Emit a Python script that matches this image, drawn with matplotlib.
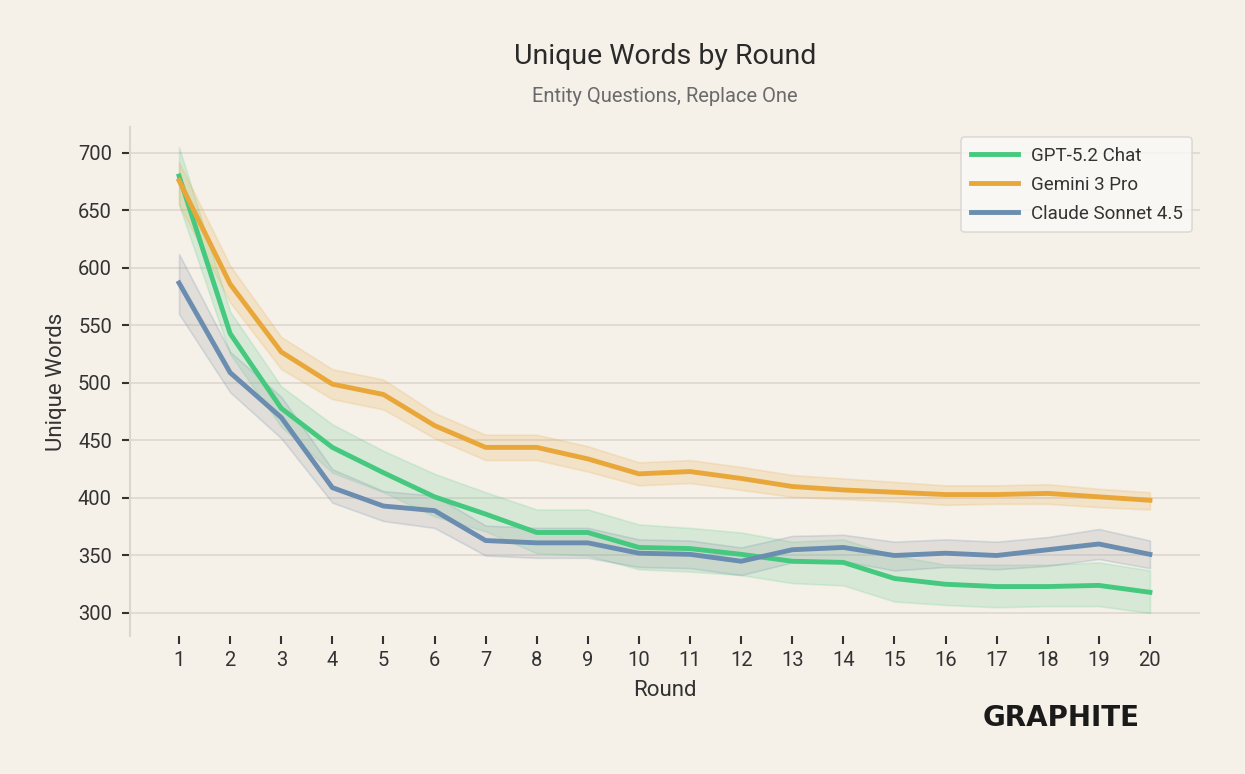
import numpy as np
import matplotlib
matplotlib.use('Agg')
import matplotlib.pyplot as plt

plt.rcParams['font.family'] = ['Roboto', 'DejaVu Sans']

rounds = list(range(1, 21))

# mean values
gpt_mean = [680, 543, 478, 444, 422, 401, 386, 370, 370, 357,
            356, 351, 345, 344, 330, 325, 323, 323, 324, 318]
gpt_lo   = [655, 525, 462, 422, 405, 384, 371, 352, 350, 338,
            336, 333, 326, 324, 310, 307, 305, 306, 306, 300]
gpt_hi   = [705, 562, 497, 464, 441, 421, 405, 390, 390, 377,
            374, 370, 362, 364, 350, 342, 342, 342, 344, 337]

gem_mean = [676, 586, 527, 499, 490, 463, 444, 444, 434, 421,
            423, 417, 410, 407, 405, 403, 403, 404, 401, 398]
gem_lo   = [655, 570, 512, 486, 477, 452, 433, 433, 423, 411,
            413, 407, 401, 399, 397, 394, 395, 395, 392, 390]
gem_hi   = [692, 602, 540, 512, 503, 474, 455, 455, 445, 431,
            433, 427, 420, 417, 414, 411, 411, 412, 408, 405]

cla_mean = [587, 509, 470, 409, 393, 389, 363, 361, 361, 352,
            351, 345, 355, 357, 350, 352, 350, 355, 360, 351]
cla_lo   = [560, 492, 452, 396, 380, 374, 350, 348, 348, 340,
            339, 333, 344, 345, 337, 340, 338, 341, 347, 339]
cla_hi   = [612, 527, 488, 425, 406, 402, 376, 374, 374, 364,
            363, 357, 367, 368, 362, 364, 362, 366, 373, 363]

BG = '#f5f0e8'
series = [
    ('GPT-5.2 Chat',      gpt_mean, gpt_lo, gpt_hi, '#44c97f', '#44c97f', 0.17),
    ('Gemini 3 Pro',      gem_mean, gem_lo, gem_hi, '#e9a73a', '#e9a73a', 0.18),
    ('Claude Sonnet 4.5', cla_mean, cla_lo, cla_hi, '#6b8db0', '#9aa0a6', 0.22),
]

fig = plt.figure(figsize=(12.45, 7.74), dpi=100, facecolor=BG)
ax = fig.add_axes([130/1245, 1-636/774, 1070/1245, 509/774])
ax.set_facecolor(BG)

for name, m, lo, hi, col, fcol, a in series:
    ax.fill_between(rounds, lo, hi, color=fcol, alpha=a, linewidth=1.2,
                    edgecolor=col)
for name, m, lo, hi, col, fcol, a in series:
    ax.plot(rounds, m, color=col, linewidth=3.5, label=name, zorder=3)

ax.set_xlim(0.04, 20.98)
ax.set_ylim(280, 722.6)
ax.set_xticks(rounds)
ax.set_yticks([300, 350, 400, 450, 500, 550, 600, 650, 700])
ax.grid(axis='y', color='#ddd7cf', linewidth=1.2)
ax.set_axisbelow(True)

for s in ['top', 'right', 'bottom']:
    ax.spines[s].set_visible(False)
ax.spines['left'].set_color('#dcd6ce')
ax.spines['left'].set_linewidth(1.5)
ax.tick_params(axis='both', colors='#333333', labelsize=14.5, length=6,
               width=1.5, labelcolor='#333333')
ax.tick_params(axis='y', pad=7)
ax.tick_params(axis='x', pad=5)

ax.set_xlabel('Round', fontsize=16, color='#333333', labelpad=7)
ax.set_ylabel('Unique Words', fontsize=16, color='#333333', labelpad=8)

fig.text(665/1245, 1-56/774, 'Unique Words by Round', ha='center', va='center',
         fontsize=20.5, color='#2a2a2a')
fig.text(665/1245, 1-97/774, 'Entity Questions, Replace One', ha='center',
         va='center', fontsize=14.5, color='#6a6a6a')

leg = ax.legend(loc='upper right', bbox_to_anchor=(0.9925, 0.98), fontsize=13.5,
                frameon=True, handlelength=2.5, borderpad=0.5, labelspacing=0.6,
                handletextpad=0.7, borderaxespad=0)
leg.get_frame().set_facecolor('#fbfaf7')
leg.get_frame().set_edgecolor('#d8d4ce')
leg.get_frame().set_linewidth(1.2)
for t in leg.get_texts():
    t.set_color('#333333')

fig.text(1140/1245, 1-718/774, 'GRAPHITE', ha='right', va='center',
         fontsize=20, fontweight='bold', color='#1a1a1a', family='DejaVu Sans')

fig.savefig('out.png', dpi=100, facecolor=BG)
